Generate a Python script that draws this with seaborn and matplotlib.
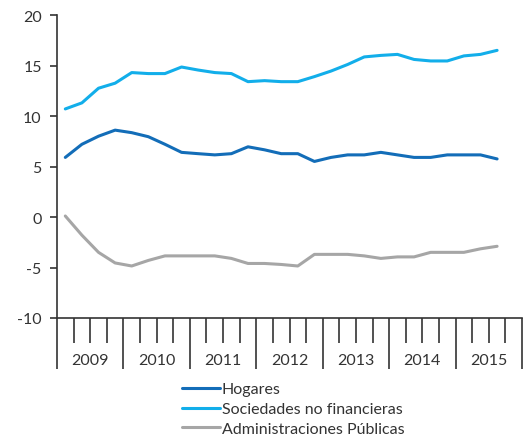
import numpy as np
import pandas as pd
import matplotlib
matplotlib.use("Agg")
import matplotlib.pyplot as plt
import matplotlib.transforms as mtransforms
import seaborn as sns

# Quarterly series, 2009Q1 - 2015Q3
years = ["2009", "2010", "2011", "2012", "2013", "2014", "2015"]
series_names = ["Hogares", "Sociedades no financieras", "Administraciones Públicas"]

hogares = [5.9, 7.2, 8.0, 8.6, 8.35, 7.95, 7.2, 6.4, 6.27, 6.15, 6.27, 6.95, 6.65,
           6.27, 6.27, 5.5, 5.9, 6.15, 6.15, 6.4, 6.15, 5.9, 5.9, 6.15, 6.15, 6.15, 5.75]
sociedades = [10.7, 11.3, 12.75, 13.25, 14.3, 14.2, 14.2, 14.85, 14.55, 14.3, 14.2, 13.4, 13.5,
              13.4, 13.4, 13.9, 14.45, 15.1, 15.85, 16.0, 16.1, 15.6, 15.45, 15.45, 15.95, 16.1, 16.5]
administraciones = [0.1, -1.8, -3.5, -4.55, -4.85, -4.3, -3.85, -3.85, -3.85, -3.85, -4.1, -4.6, -4.6,
                    -4.7, -4.85, -3.7, -3.7, -3.7, -3.85, -4.1, -3.95, -3.95, -3.5, -3.5, -3.5, -3.15, -2.9]

n = len(hogares)
x = np.arange(n) + 0.5  # each point sits in the middle of its quarter slot

df = pd.concat([
    pd.DataFrame({"x": x, "valor": vals, "serie": name})
    for name, vals in zip(series_names, [hogares, sociedades, administraciones])
])

sns.set_style("white")
plt.rcParams["font.family"] = ["Lato", "DejaVu Sans"]
plt.rcParams["axes.unicode_minus"] = False
text_color = "#333333"

fig = plt.figure(figsize=(5.25, 4.39), dpi=100)
ax = fig.add_axes([57 / 525, 1 - 319 / 439, 465 / 525, 303 / 439])

palette = {"Hogares": "#136db8",
           "Sociedades no financieras": "#12aeea",
           "Administraciones Públicas": "#a6a6a6"}
sns.lineplot(data=df, x="x", y="valor", hue="serie", palette=palette,
             linewidth=2.2, ax=ax, legend=True)

ax.set_xlim(0, 4 * len(years))
ax.set_ylim(-10, 20)
ax.set_yticks(np.arange(-10, 21, 5))
ax.set_xlabel("")
ax.set_ylabel("")

for side in ["top", "right"]:
    ax.spines[side].set_visible(False)
for side in ["left", "bottom"]:
    ax.spines[side].set_color(text_color)
    ax.spines[side].set_linewidth(1.2)

ax.tick_params(axis="y", direction="out", length=5, width=1.2, color=text_color,
               labelsize=11.5, labelcolor=text_color, pad=6, left=True)

# Year boundaries as long ticks, quarters as short ticks
ax.set_xticks(np.arange(0, 4 * len(years) + 1, 4))
ax.set_xticks(np.arange(0, 4 * len(years) + 1, 1), minor=True)
ax.tick_params(axis="x", which="major", direction="out", length=37, width=1.2,
               color=text_color, labelbottom=False, bottom=True)
ax.tick_params(axis="x", which="minor", direction="out", length=18, width=1.2,
               color=text_color, bottom=True)

trans = mtransforms.blended_transform_factory(ax.transData, ax.transAxes)
for i, yr in enumerate(years):
    ax.text(4 * i + 2, -42 / 303, yr, transform=trans, ha="center", va="center",
            fontsize=11.5, color=text_color)

handles, labels = ax.get_legend_handles_labels()
ax.legend(handles, labels, loc="upper left", bbox_to_anchor=(182 / 525, 1 - 383 / 439),
          bbox_transform=fig.transFigure, frameon=False, fontsize=11.5,
          handlelength=2.4, handletextpad=0.1, labelspacing=0.36,
          borderaxespad=0, borderpad=0, labelcolor=text_color)

fig.savefig("out.png", dpi=100)
